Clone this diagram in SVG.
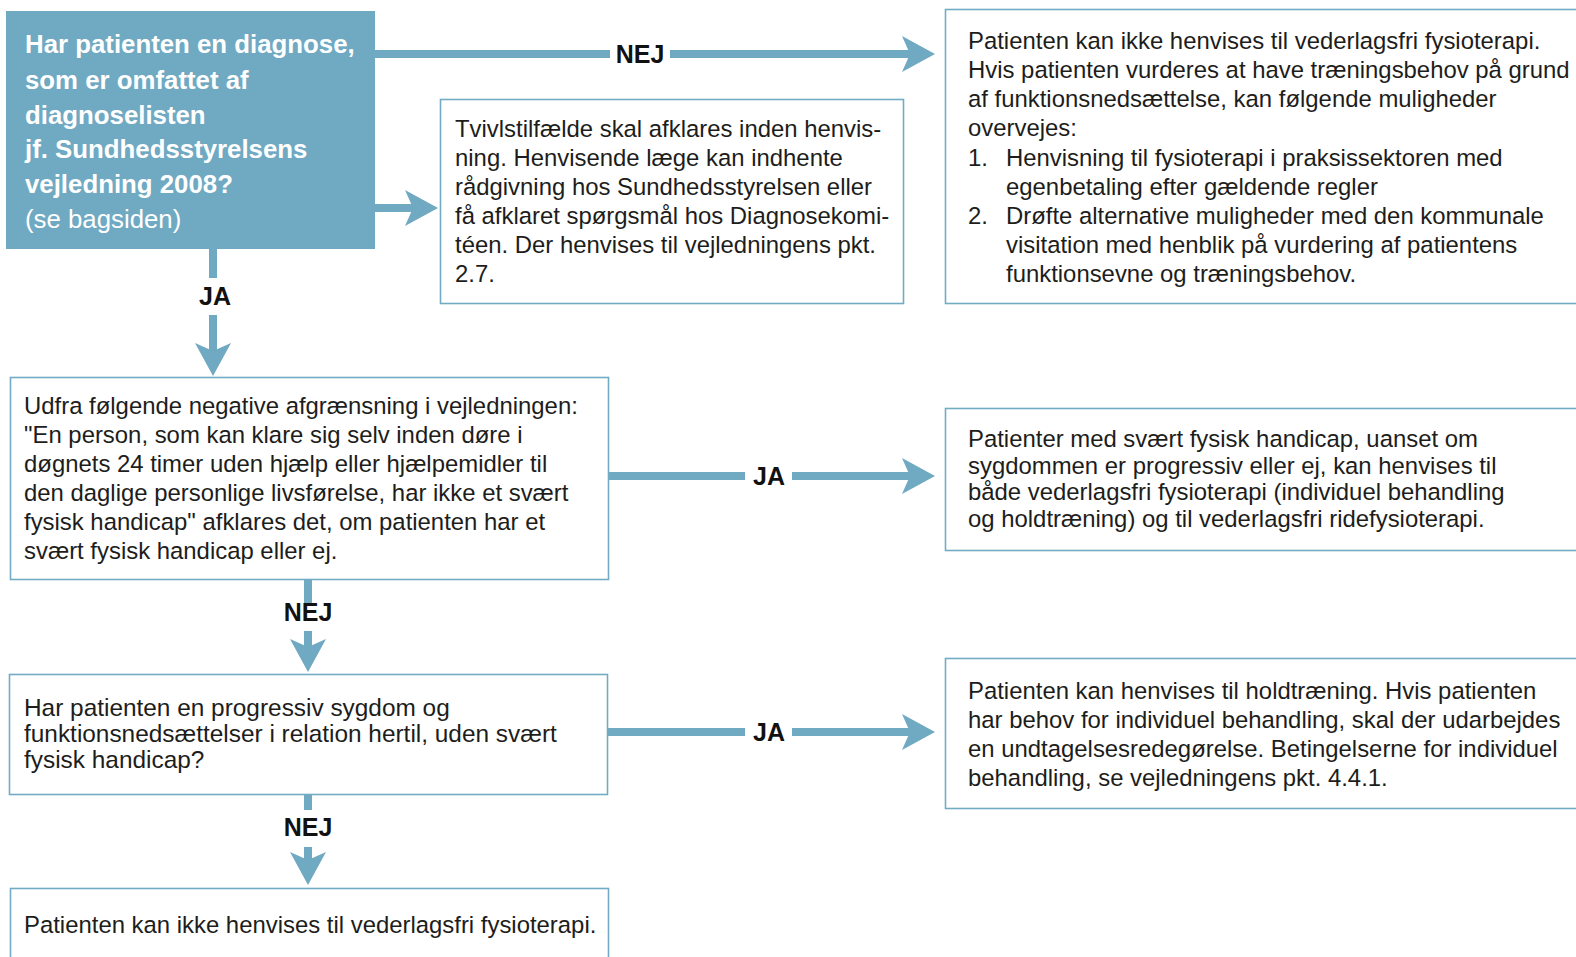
<svg xmlns="http://www.w3.org/2000/svg" xmlns:xlink="http://www.w3.org/1999/xlink" width="1576" height="957" viewBox="0 0 1576 957">
<style>
.box{fill:#ffffff;stroke:#72abc4;stroke-width:1.6}
.qbox{fill:#6fa9c2}
.t{font-family:"Liberation Sans",Arial,sans-serif;font-size:23.9px;fill:#1d1d1b}
.tw{font-family:"Liberation Sans",Arial,sans-serif;font-size:25.8px;fill:#ffffff}
.b{font-weight:bold}
.lbl{font-family:"Liberation Sans",Arial,sans-serif;font-size:25px;font-weight:bold;fill:#111111;text-anchor:middle}
.ln{stroke:#6fa9c2;stroke-width:8;fill:none}
.ah{fill:#6fa9c2}
</style>
<defs>
<path id="ah" class="ah" d="M0 0 L-33 -18 L-25 0 L-33 18 Z"/>
</defs>
<rect width="1576" height="957" fill="#ffffff"/>

<g id="connectors">
  <line class="ln" x1="375" y1="54" x2="610" y2="54"/>
  <line class="ln" x1="670" y1="54" x2="911" y2="54"/>
  <use xlink:href="#ah" href="#ah" transform="translate(935,54)"/>
  <text class="lbl" x="640" y="63">NEJ</text>

  <line class="ln" x1="375" y1="208" x2="413" y2="208"/>
  <use xlink:href="#ah" href="#ah" transform="translate(438,208)"/>

  <line class="ln" x1="213" y1="249" x2="213" y2="278"/>
  <line class="ln" x1="213" y1="315" x2="213" y2="352"/>
  <use xlink:href="#ah" href="#ah" transform="translate(213,376) rotate(90)"/>
  <text class="lbl" x="215" y="305">JA</text>

  <line class="ln" x1="609" y1="476" x2="745" y2="476"/>
  <line class="ln" x1="792" y1="476" x2="911" y2="476"/>
  <use xlink:href="#ah" href="#ah" transform="translate(935,476)"/>
  <text class="lbl" x="769" y="485">JA</text>

  <line class="ln" x1="308" y1="580" x2="308" y2="603"/>
  <line class="ln" x1="308" y1="631" x2="308" y2="648"/>
  <use xlink:href="#ah" href="#ah" transform="translate(308,672) rotate(90)"/>
  <text class="lbl" x="308" y="621">NEJ</text>

  <line class="ln" x1="608" y1="732" x2="745" y2="732"/>
  <line class="ln" x1="792" y1="732" x2="911" y2="732"/>
  <use xlink:href="#ah" href="#ah" transform="translate(935,732)"/>
  <text class="lbl" x="769" y="741">JA</text>

  <line class="ln" x1="308" y1="795" x2="308" y2="810"/>
  <line class="ln" x1="308" y1="847" x2="308" y2="862"/>
  <use xlink:href="#ah" href="#ah" transform="translate(308,885) rotate(90)"/>
  <text class="lbl" x="308" y="836">NEJ</text>
</g>

<g id="n1">
  <rect class="qbox" x="6" y="11" width="369" height="238"/>
  <text class="tw b" x="25" y="53">Har patienten en diagnose,</text>
  <text class="tw b" x="25" y="89">som er omfattet af</text>
  <text class="tw b" x="25" y="124">diagnoselisten</text>
  <text class="tw b" x="25" y="158">jf. Sundhedsstyrelsens</text>
  <text class="tw b" x="25" y="193">vejledning 2008?</text>
  <text class="tw" x="25" y="228">(se bagsiden)</text>
</g>

<g id="n2">
  <rect class="box" x="440.5" y="99.5" width="463" height="204"/>
  <text class="t" x="455" y="137">Tvivlstilfælde skal afklares inden henvis-</text>
  <text class="t" x="455" y="166">ning. Henvisende læge kan indhente</text>
  <text class="t" x="455" y="195">rådgivning hos Sundhedsstyrelsen eller</text>
  <text class="t" x="455" y="224">få afklaret spørgsmål hos Diagnosekomi-</text>
  <text class="t" x="455" y="253">téen. Der henvises til vejledningens pkt.</text>
  <text class="t" x="455" y="282">2.7.</text>
</g>

<g id="n3">
  <rect class="box" x="945.5" y="9.5" width="660" height="294"/>
  <text class="t" x="968" y="49">Patienten kan ikke henvises til vederlagsfri fysioterapi.</text>
  <text class="t" x="968" y="78">Hvis patienten vurderes at have træningsbehov på grund</text>
  <text class="t" x="968" y="107">af funktionsnedsættelse, kan følgende muligheder</text>
  <text class="t" x="968" y="136">overvejes:</text>
  <text class="t" x="968" y="166">1.</text>
  <text class="t" x="1006" y="166">Henvisning til fysioterapi i praksissektoren med</text>
  <text class="t" x="1006" y="195">egenbetaling efter gældende regler</text>
  <text class="t" x="968" y="224">2.</text>
  <text class="t" x="1006" y="224">Drøfte alternative muligheder med den kommunale</text>
  <text class="t" x="1006" y="253">visitation med henblik på vurdering af patientens</text>
  <text class="t" x="1006" y="282">funktionsevne og træningsbehov.</text>
</g>

<g id="n4">
  <rect class="box" x="10.5" y="377.5" width="598" height="202"/>
  <text class="t" x="24" y="414">Udfra følgende negative afgrænsning i vejledningen:</text>
  <text class="t" x="24" y="443">"En person, som kan klare sig selv inden døre i</text>
  <text class="t" x="24" y="472">døgnets 24 timer uden hjælp eller hjælpemidler til</text>
  <text class="t" x="24" y="501">den daglige personlige livsførelse, har ikke et svært</text>
  <text class="t" x="24" y="530">fysisk handicap" afklares det, om patienten har et</text>
  <text class="t" x="24" y="559">svært fysisk handicap eller ej.</text>
</g>

<g id="n5">
  <rect class="box" x="945.5" y="408.5" width="660" height="142"/>
  <text class="t" x="968" y="447">Patienter med svært fysisk handicap, uanset om</text>
  <text class="t" x="968" y="474">sygdommen er progressiv eller ej, kan henvises til</text>
  <text class="t" x="968" y="500">både vederlagsfri fysioterapi  (individuel behandling</text>
  <text class="t" x="968" y="527">og holdtræning) og til vederlagsfri ridefysioterapi.</text>
</g>

<g id="n6">
  <rect class="box" x="9.5" y="674.5" width="598" height="120"/>
  <text class="t" x="24" y="716" style="font-size:24.4px">Har patienten en progressiv sygdom og</text>
  <text class="t" x="24" y="742" style="font-size:24.4px">funktionsnedsættelser i relation hertil, uden svært</text>
  <text class="t" x="24" y="768" style="font-size:24.4px">fysisk handicap?</text>
</g>

<g id="n7">
  <rect class="box" x="945.5" y="658.5" width="660" height="150"/>
  <text class="t" x="968" y="699">Patienten kan henvises til holdtræning. Hvis patienten</text>
  <text class="t" x="968" y="728">har behov for individuel behandling, skal der udarbejdes</text>
  <text class="t" x="968" y="757">en undtagelsesredegørelse. Betingelserne for individuel</text>
  <text class="t" x="968" y="786">behandling, se vejledningens pkt. 4.4.1.</text>
</g>

<g id="n8">
  <rect class="box" x="10.5" y="888.5" width="598" height="100"/>
  <text class="t" x="24" y="933">Patienten kan ikke henvises til vederlagsfri fysioterapi.</text>
</g>
</svg>
